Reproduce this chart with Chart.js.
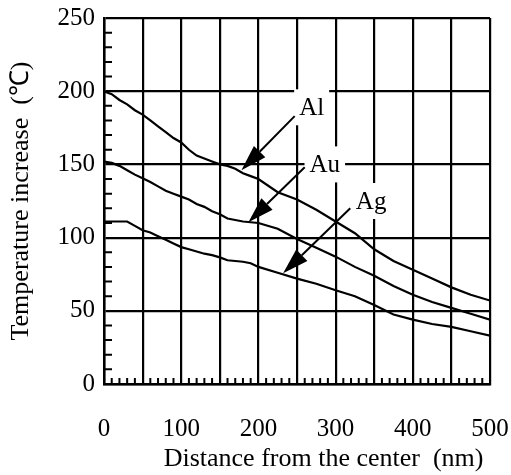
<!DOCTYPE html>
<html>
<head>
<meta charset="utf-8">
<script src="https://cdn.jsdelivr.net/npm/chart.js@4.4.1/dist/chart.umd.min.js"></script>
<style>
  html, body { margin: 0; padding: 0; background: #fff; }
</style>
</head>
<body>
<canvas id="grafico" width="511" height="475"></canvas>
<script>
// datos (nm, grados C)
const distancia = [0, 10, 20, 30, 40, 50, 60, 70, 80, 90, 100, 110, 120, 130, 140, 150, 160, 170, 180, 190, 200, 225, 250, 275, 300, 325, 350, 375, 400, 425, 450, 475, 500];
const tempAl = [200, 198, 194, 191, 187, 184, 180, 176, 172, 168, 165, 160, 156, 154, 152, 150, 149, 147, 144, 142, 140, 131, 126, 119, 111, 103, 92, 84, 78, 72, 66, 61, 57];
const tempAu = [152, 151, 149, 146, 143, 140.5, 138, 135, 132, 130, 128, 126, 123, 121, 118, 116, 113, 112, 111, 110.5, 110, 106, 99, 93, 87, 80, 74, 67, 61, 56, 52, 48, 44];
const tempAg = [111, 111, 111, 111, 108, 105, 103.5, 101, 98.5, 96, 93.5, 92, 90.5, 89, 88, 86.5, 84.5, 84, 83.5, 82.5, 80, 76, 72, 68.5, 64, 60, 54, 47.5, 44, 41, 39, 36, 33];

// etiquetas con flecha (coordenadas en unidades de los ejes)
const etiquetas = ["Al", "Au", "Ag"];
const etiquetaX = [269, 286, 346];
const etiquetaY = [189, 150, 125];
const colaX = [247, 260, 319];
const colaY = [183, 148, 120];
const puntaX = [178, 187, 232];
const puntaY = [146, 110.5, 75.6];

const fuente = "'Liberation Serif', 'Times New Roman', serif";
Chart.defaults.font.family = fuente;
Chart.defaults.color = "#000";

function serie(valores) {
    return distancia.map((d, i) => ({ x: d, y: valores[i] }));
}

// marcas menores hacia adentro cada 10 unidades
const marcasMenores = {
    id: "marcasMenores",
    afterDatasetsDraw(chart) {
        const { ctx, chartArea, scales } = chart;
        ctx.save();
        ctx.strokeStyle = "#000";
        ctx.lineWidth = 2;
        ctx.beginPath();
        for (let v = 10; v < 250; v += 10) {
            if (v % 50 === 0) continue;
            const y = scales.y.getPixelForValue(v);
            ctx.moveTo(chartArea.left, y);
            ctx.lineTo(chartArea.left + 8, y);
        }
        for (let v = 10; v < 500; v += 10) {
            if (v % 50 === 0) continue;
            const x = scales.x.getPixelForValue(v);
            ctx.moveTo(x, chartArea.bottom);
            ctx.lineTo(x, chartArea.bottom - 6);
        }
        ctx.stroke();
        ctx.restore();
    }
};

// textos Al / Au / Ag con sus flechas
const flechas = {
    id: "flechas",
    afterDatasetsDraw(chart) {
        const { ctx, scales } = chart;
        ctx.save();
        ctx.font = "25px " + fuente;
        ctx.textAlign = "center";
        ctx.textBaseline = "middle";
        etiquetas.forEach((txt, i) => {
            const lx = scales.x.getPixelForValue(etiquetaX[i]);
            const ly = scales.y.getPixelForValue(etiquetaY[i]);
            const w = ctx.measureText(txt).width + 10;
            ctx.fillStyle = "#fff";
            ctx.fillRect(lx - w / 2, ly - 18, w, 36);
            ctx.fillStyle = "#000";
            ctx.fillText(txt, lx, ly + 1);

            const x0 = scales.x.getPixelForValue(colaX[i]);
            const y0 = scales.y.getPixelForValue(colaY[i]);
            const x1 = scales.x.getPixelForValue(puntaX[i]);
            const y1 = scales.y.getPixelForValue(puntaY[i]);
            const ang = Math.atan2(y1 - y0, x1 - x0);
            const largo = 26, ancho = 8;
            const bx = x1 - largo * Math.cos(ang);
            const by = y1 - largo * Math.sin(ang);
            ctx.strokeStyle = "#000";
            ctx.lineWidth = 2;
            ctx.beginPath();
            ctx.moveTo(x0, y0);
            ctx.lineTo(bx, by);
            ctx.stroke();
            ctx.beginPath();
            ctx.moveTo(x1, y1);
            ctx.lineTo(bx + ancho * Math.sin(ang), by - ancho * Math.cos(ang));
            ctx.lineTo(bx - ancho * Math.sin(ang), by + ancho * Math.cos(ang));
            ctx.closePath();
            ctx.fillStyle = "#000";
            ctx.fill();
        });
        ctx.restore();
    }
};

const linea = { borderColor: "#000", borderWidth: 2.2, pointRadius: 0, tension: 0, fill: false };

new Chart(document.getElementById("grafico"), {
    type: "line",
    data: {
        datasets: [
            { label: "Al", data: serie(tempAl), ...linea },
            { label: "Au", data: serie(tempAu), ...linea },
            { label: "Ag", data: serie(tempAg), ...linea }
        ]
    },
    options: {
        responsive: false,
        animation: false,
        layout: { padding: { top: 18, right: 21, left: 0, bottom: 0 } },
        plugins: { legend: { display: false }, tooltip: { enabled: false } },
        scales: {
            x: {
                type: "linear",
                min: 0,
                max: 500,
                afterFit: s => { s.height = 91; s.paddingLeft = 0; s.paddingRight = 0; },
                ticks: {
                    stepSize: 50,
                    padding: 30,
                    maxRotation: 0,
                    minRotation: 0,
                    autoSkip: false,
                    font: { size: 25 },
                    callback: v => (v % 100 === 0 ? v : "")
                },
                grid: { color: "#000", lineWidth: 2.2, drawTicks: false },
                border: { color: "#000", width: 2.5 },
                title: {
                    display: true,
                    text: "Distance from the center  (nm) ",
                    align: "end",
                    font: { size: 26 },
                    padding: { top: 0, bottom: 0 }
                }
            },
            y: {
                min: 0,
                max: 250,
                afterFit: s => { s.width = 104; s.paddingTop = 0; s.paddingBottom = 0; },
                ticks: { stepSize: 50, padding: 9, font: { size: 25 } },
                grid: { color: "#000", lineWidth: 2.2, drawTicks: false },
                border: { color: "#000", width: 2.5 },
                title: {
                    display: true,
                    text: "Temperature increase  (\u2103)",
                    font: { size: 26 },
                    padding: { top: 6, bottom: 0 }
                }
            }
        }
    },
    plugins: [marcasMenores, flechas]
});
</script>
</body>
</html>
